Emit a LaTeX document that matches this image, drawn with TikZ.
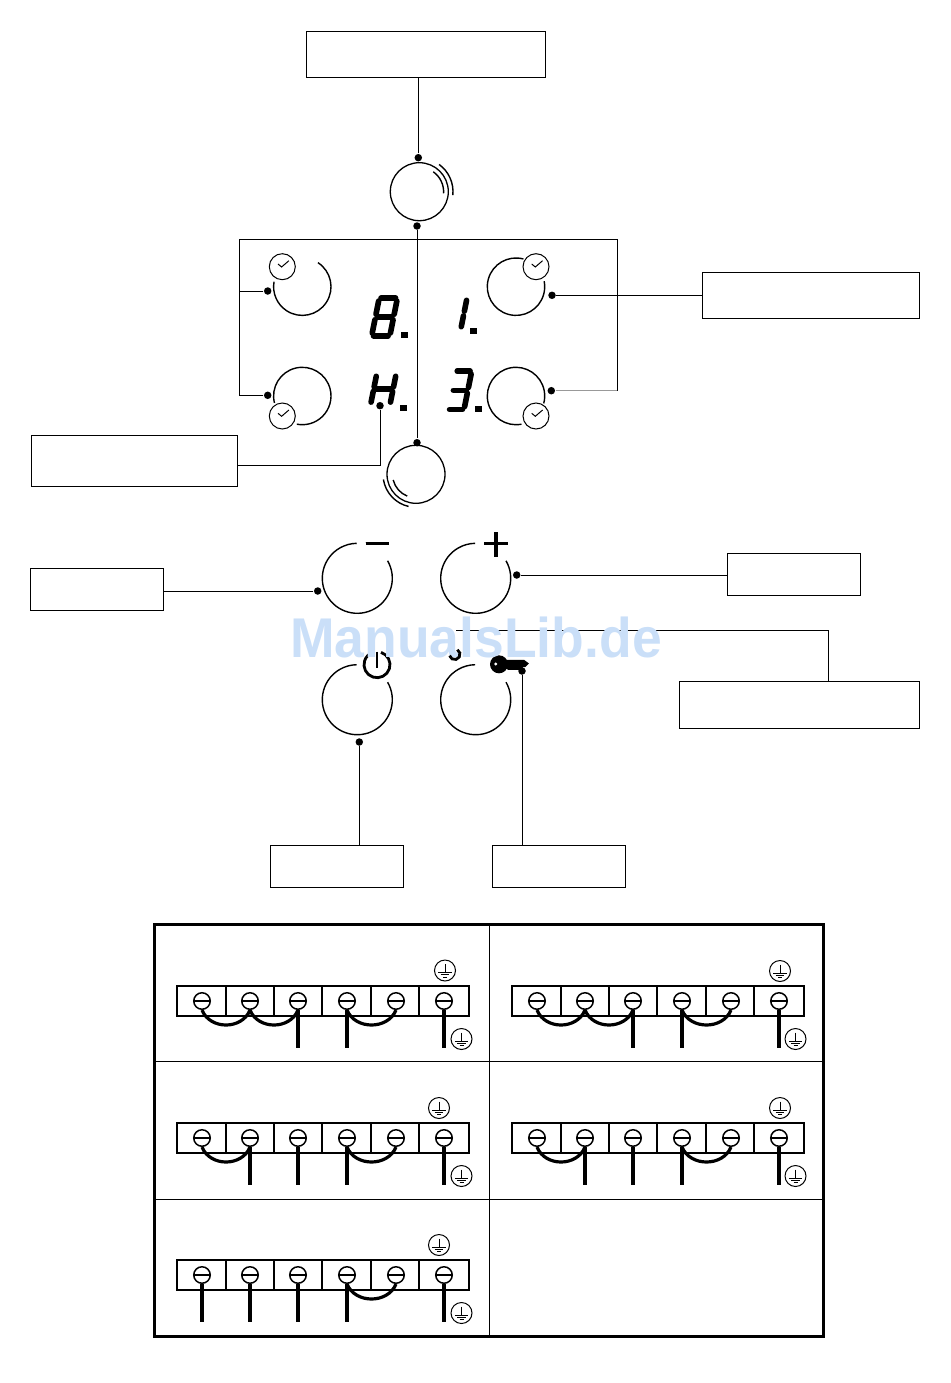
\documentclass[tikz,border=0pt]{standalone}
\usepackage{fontspec}
\newfontfamily\markfont{Liberation Sans}
\definecolor{markblue}{HTML}{CADFF8}

\newcommand{\knobarc}[5]{\draw[knobline] (#1,#2) ++(#4:#3) arc[start angle=#4,end angle=#5,radius=#3pt];}
\newcommand{\segdigit}[5]{
  \begin{scope}[shift={(#1,#2)},xslant=-0.2,x=#3pt,y=#4pt]
  \foreach \xa/\ya/\xb/\yb in {#5} \draw[segline] (\xa,\ya)--(\xb,\yb);
  \end{scope}
}
\newcommand{\earthmark}[3]{
  \node[earthring] (#1) at (#2,#3) {};
  \draw[hairline] (#1) ++(0,-6.3) -- ++(0,8.3);
  \draw[hairline] (#1) ++(-6.7,2) -- ++(13.4,0);
  \draw[hairline] (#1) ++(-4.3,4.3) -- ++(8.6,0);
  \draw[hairline] (#1) ++(-2,6.7) -- ++(4,0);
}
\newcommand{\terminalrow}[3]{
  \draw[strip] ({#2+177},{#3+986}) rectangle ({#2+469},{#3+1016});
  \foreach \x in {226,274,322,371,419}
    \draw[strip] ({#2+\x},{#3+986}) -- ({#2+\x},{#3+1016});
  \foreach \i/\x in {1/202,2/250,3/298,4/347,5/396,6/444}{
    \node[screw] (#1\i) at ({#2+\x},{#3+1001}) {};
    \draw[line width=1.8pt] (#1\i.west) -- (#1\i.east);
    \coordinate (#1\i e) at ({#2+\x},{#3+1048});
  }
}

\begin{document}
\begin{tikzpicture}[
       yscale=-1,
       x=1pt,
       y=1pt,
       line width=1pt,
       labelbox/.style={
         draw,
         rectangle,
         inner sep=0pt
       },
       dotpt/.style={
         circle,
         fill=black,
         inner sep=0pt,
         minimum size=7.5pt
       },
       knob/.style={
         circle,
         draw,
         line width=1.3pt,
         inner sep=0pt,
         minimum size=58pt
       },
       clockmark/.style={
         circle,
         draw,
         fill=white,
         inner sep=0pt,
         minimum size=26pt
       },
       earthring/.style={
         circle,
         draw,
         inner sep=0pt,
         minimum size=21pt
       },
       screw/.style={
         circle,
         draw,
         fill=white,
         line width=1.5pt,
         inner sep=0pt,
         minimum size=16.5pt
       },
       knobline/.style={line width=1.4pt},
       segline/.style={line width=5.6pt,line cap=round},
       strip/.style={line width=1.6pt},
       jumper/.style={line width=3.2pt},
       wire/.style={line width=4pt},
       hairline/.style={line width=1pt}
     ]
\useasboundingbox (0,0) rectangle (950,1383);

% labels
\node[labelbox,minimum width=239pt,minimum height=46pt] (topbox) at (425.5,54.5) {};
\node[labelbox,minimum width=217pt,minimum height=46pt] (zonebox) at (810.5,295) {};
\node[labelbox,minimum width=206pt,minimum height=51pt] (displaybox) at (134,460.5) {};
\node[labelbox,minimum width=133pt,minimum height=42pt] (minusbox) at (96.5,589) {};
\node[labelbox,minimum width=133pt,minimum height=42pt] (plusbox) at (793.5,574) {};
\node[labelbox,minimum width=240pt,minimum height=47pt] (timerbox) at (799,704.5) {};
\node[labelbox,minimum width=133pt,minimum height=42pt] (powerbox) at (336.5,866) {};
\node[labelbox,minimum width=133pt,minimum height=42pt] (lockbox) at (558.5,866) {};

% round knobs at top and bottom of the display
\node[knob] (upknob) at (419.3,191.7) {};
\node[knob] (downknob) at (416,474.3) {};
\knobarc{419.3}{191.7}{24.3}{-55}{4}
\knobarc{419.3}{191.7}{33.7}{-54}{6}
\knobarc{416}{474.3}{23.5}{166}{112}
\knobarc{416}{474.3}{33}{171}{103}

% zone knobs
\knobarc{302.3}{286.7}{28.7}{-57}{190}
\knobarc{302.3}{396}{28.7}{166}{461}
\knobarc{516}{286.7}{28.7}{-75}{-371}
\knobarc{516}{396}{28.7}{79}{375}
\foreach \name/\x/\y in {clockA/282.3/266.7,clockB/282.3/416,clockC/536/266.7,clockD/536/416}{
  \node[clockmark] (\name) at (\x,\y) {};
  \draw[hairline] (\name) ++(-4.3,-2.7) -- ++(3.6,3) -- ++(7.3,-6.3);
}

% display
\segdigit{379.2}{298.2}{18.2}{18.8}{.1/0/.9/0,.1/1/.9/1,.1/2/.9/2,0/.15/0/.85,0/1.15/0/1.85,1/.15/1/.85,1/1.15/1/1.85}
\segdigit{450}{298}{17}{15.5}{1/.15/1/.85,1/1.15/1/1.85}
\segdigit{376.7}{374}{19.4}{15.2}{.1/1/.9/1,0/.15/0/.85,0/1.15/0/1.85,1/.15/1/.85,1/1.15/1/1.85}
\segdigit{455.6}{371.2}{16.1}{19.1}{.1/0/.9/0,.1/1/.9/1,.1/2/.9/2,1/.15/1/.85,1/1.15/1/1.85}
\foreach \x/\y in {401.4/332.2,469.7/328.3,399.7/405.2,475.4/406.2}
  \fill (\x,\y) rectangle ++(6.8,6);

% dots
\node[dotpt] (topdot) at (418.3,157.7) {};
\node[dotpt] (upperdot) at (417,226) {};
\node[dotpt] (lowerdot) at (417,442.7) {};
\node[dotpt] (dotA) at (267.7,291) {};
\node[dotpt] (dotB) at (267.7,395.3) {};
\node[dotpt] (dotC) at (552,295.3) {};
\node[dotpt] (dotD) at (551.3,390.7) {};
\node[dotpt] (hdot) at (380,405.7) {};
\node[dotpt] (minusdot) at (317.7,591) {};
\node[dotpt] (plusdot) at (516.7,575) {};
\node[dotpt] (powerdot) at (359.3,742) {};
\node[dotpt] (keydot) at (522,671) {};
\coordinate (frameL) at (239.3,239.3);
\coordinate (frameR) at (617.3,239.3);
\coordinate (timerstart) at (456,630);

\draw (topdot) -- (topdot |- topbox.south);
\draw (upperdot) -- (lowerdot);
\draw (dotA) -| (frameL) -- (frameR) |- (dotC);
\draw (dotB) -| (frameL);
\draw (frameR |- dotC) -- (frameR |- dotD);
\draw[black!40] (frameR |- dotD) -- (dotD);
\draw (dotC) -- (zonebox.west |- dotC);
\draw (hdot) |- (displaybox.east |- 0,465.3);
\draw (minusdot) -- (minusbox.east |- minusdot);
\draw (plusdot) -- (plusbox.west |- plusdot);
\draw (timerstart) -| (timerbox.north -| 828,0);
\draw (powerdot) -- (powerdot |- powerbox.north);
\draw (keydot) -- (keydot |- lockbox.north);

% lower four knobs
\foreach \x/\y in {357.3/578.3,475.7/578.3,357.3/699.7,475.7/699.7}
  \knobarc{\x}{\y}{35}{-30}{269}
\draw[line width=2.8pt] (365.7,543.7) -- (389,543.7);
\draw[line width=3.4pt] (484,543.7) -- (508,543.7);
\draw[line width=3.8pt] (496,532.3) -- (496,556.7);
\draw[line width=2.8pt] (377,664.7) ++(-72:13) arc[start angle=-72,end angle=252,radius=13pt];
\draw[line width=2.4pt] (377,651.7) -- (377,668.3);
\fill (499,664.3) circle (9) (503,659.8) -- (524,659.8) -- (529,663.5) -- (525,667.2) -- (523,667.2) -- (521,669.8) -- (508,669.8) -- (506,668) -- (503,669) -- cycle;
\fill[white] (495.7,664) circle (1.7);

% wiring table
\draw[line width=3pt] (154.5,924.5) rectangle (823.5,1336);
\draw (489.5,924.5) -- (489.5,1336);
\draw (154.5,1061) -- (823.5,1061);
\draw (154.5,1199) -- (823.5,1199);

\terminalrow{a}{0}{0}
\terminalrow{b}{335}{0}
\terminalrow{c}{0}{137}
\terminalrow{d}{335}{137}
\terminalrow{f}{0}{274}

\foreach \s/\t in {a1/a2,a2/a3,a4/a5,b1/b2,b2/b3,b4/b5,c1/c2,c4/c5,d1/d2,d4/d5,f4/f5}
  \draw[jumper] (\s.south) .. controls +(8,20) and +(-8,20) .. (\t.south);
\foreach \s in {a3,a4,a6,b3,b4,b6,c2,c3,c4,c6,d2,d3,d4,d6,f1,f2,f3,f4,f6}
  \draw[wire] (\s.south) -- (\s e);

\earthmark{earthA}{445}{970.5}
\earthmark{earthB}{461.5}{1039}
\earthmark{earthC}{780}{971}
\earthmark{earthD}{795.5}{1039}
\earthmark{earthE}{439}{1108}
\earthmark{earthF}{461.5}{1176}
\earthmark{earthG}{780}{1108}
\earthmark{earthH}{795.5}{1176}
\earthmark{earthI}{439}{1245}
\earthmark{earthJ}{461.5}{1313}

% watermark
\node[text=markblue,inner sep=0pt] (watermark) at (476,637) {\markfont\bfseries\fontsize{56}{56}\selectfont\scalebox{0.955}[1]{ManualsLib.de}};
\draw[line width=2.8pt] (454.7,654.3) ++(-60:5.3) arc[start angle=-60,end angle=165,radius=5.3pt];
\end{tikzpicture}
\end{document}
